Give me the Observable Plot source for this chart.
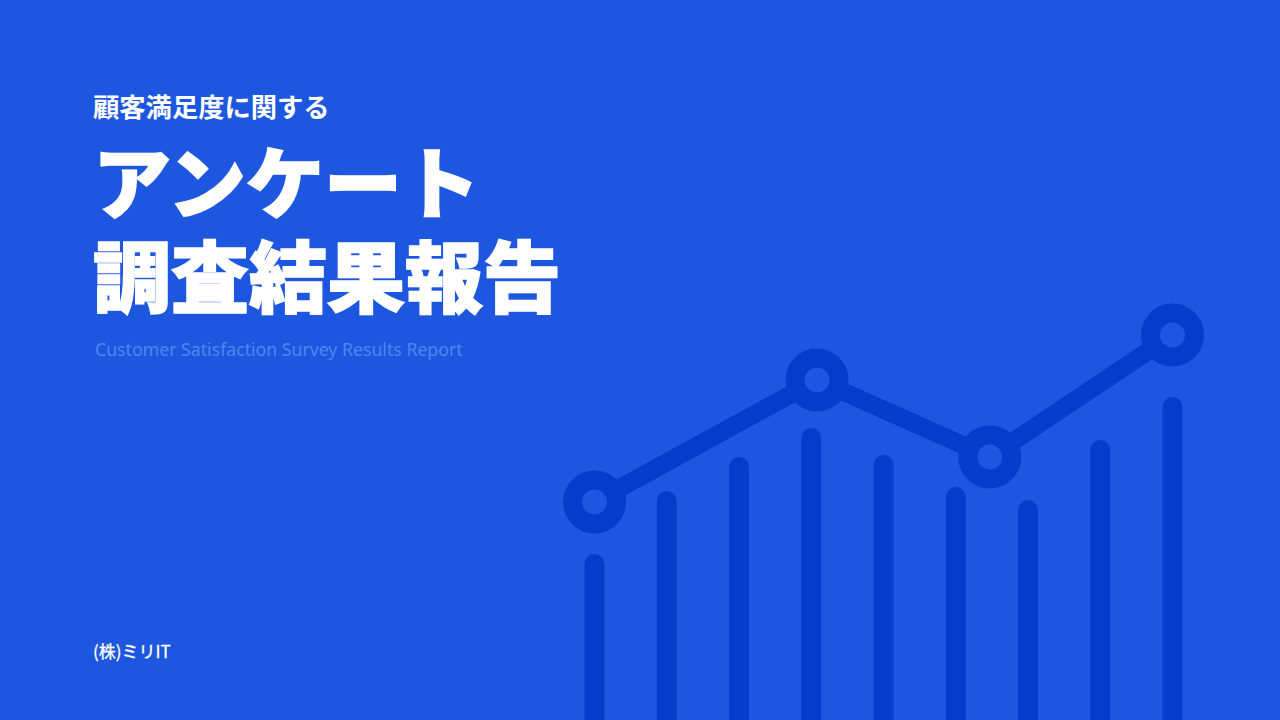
<!DOCTYPE html>
<html>
<head>
<meta charset="utf-8">
<script src="https://cdn.jsdelivr.net/npm/d3@7"></script>
<script src="https://cdn.jsdelivr.net/npm/@observablehq/plot@0.6"></script>
<style>
  html, body { margin: 0; padding: 0; width: 1280px; height: 720px; overflow: hidden; background: #1e57df; }
  #wrap { position: relative; width: 1280px; height: 720px; }
  #chart { position: absolute; left: 0; top: 0; }
  .t { position: absolute; left: 93px; color: #fff; white-space: nowrap; }
  #kicker { top: 93px; font: 700 26.3px/26px "Noto Sans CJK JP", sans-serif; }
  .title { font: 900 78px/78px "Noto Sans CJK JP", sans-serif; -webkit-text-stroke: 1.6px #fff; }
  #title1 { top: 140px; }
  #title2 { top: 234px; }
  #sub { top: 340px; left: 95px; font: 400 17.7px/18px "Noto Sans", sans-serif; color: #4f86ee; }
  #company { top: 642px; font: 400 17px/17px "Noto Sans CJK JP", sans-serif; -webkit-text-stroke: 0.3px #fff; }
</style>
</head>
<body>
<div id="wrap">
  <div id="chart"></div>
  <div class="t" id="kicker">顧客満足度に関する</div>
  <div class="t title" id="title1">アンケート</div>
  <div class="t title" id="title2">調査結果報告</div>
  <div class="t" id="sub">Customer Satisfaction Survey Results Report</div>
  <div class="t" id="company">(株)ミリIT</div>
</div>
<script>
// Decorative bar values (index 0..8)
const barIndex = [0, 1, 2, 3, 4, 5, 6, 7, 8];
const barValues = [31.2, 43.8, 50.6, 56.4, 51.0, 44.6, 42.0, 54.0, 62.6];
// Trend line points
const lineIndex = [0, 3.08, 5.47, 8];
const lineValues = [43.7, 68.1, 52.7, 77.1];

const bg = "#1e57df";
const dark = "#063ccb";

const bars = barIndex.map((x, i) => ({x, v: barValues[i]}));
const pts = lineIndex.map((x, i) => ({x, v: lineValues[i]}));

const chart = Plot.plot({
  width: 1280,
  height: 720,
  margin: 0,
  style: {background: "transparent", overflow: "visible"},
  x: {domain: [0, 8], range: [594, 1172], axis: null},
  y: {domain: [0, 100], range: [720, 220], axis: null},
  marks: [
    Plot.ruleX(bars, {x: "x", y1: -10, y2: "v", stroke: dark, strokeWidth: 20, strokeLinecap: "round"}),
    Plot.line(pts, {x: "x", y: "v", stroke: dark, strokeWidth: 18, strokeLinejoin: "round"}),
    Plot.dot(pts, {x: "x", y: "v", r: 22, fill: bg, stroke: dark, strokeWidth: 19})
  ]
});
document.getElementById("chart").appendChild(chart);
</script>
</body>
</html>
